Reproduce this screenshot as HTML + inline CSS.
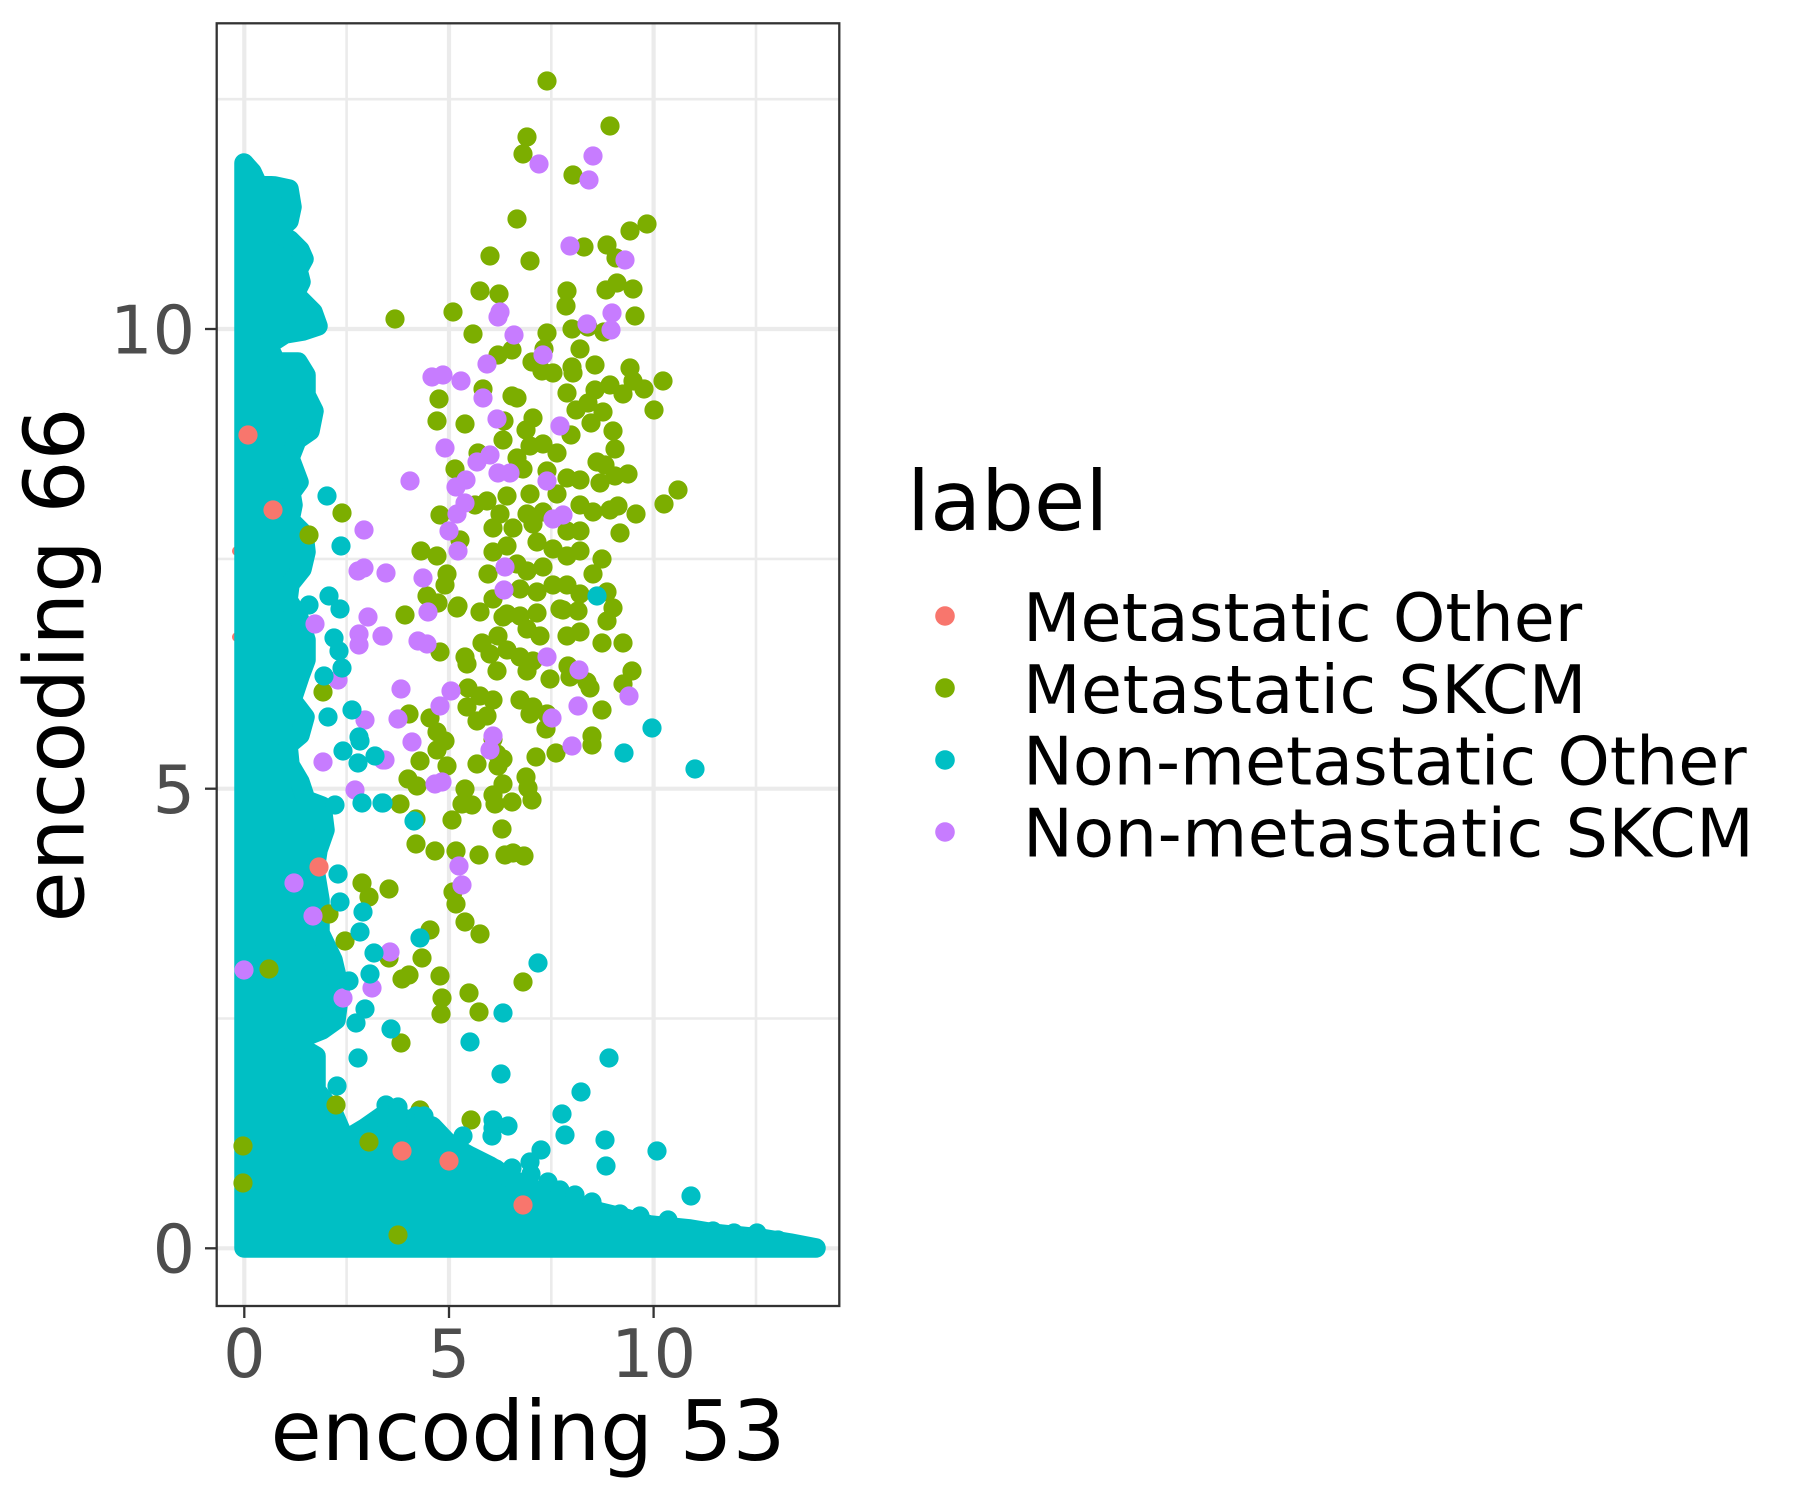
<!DOCTYPE html>
<html><head><meta charset="utf-8"><style>
html,body{margin:0;padding:0;background:#fff;}
svg{display:block;}
text{font-family:"DejaVu Sans","Liberation Sans",sans-serif;}
</style></head><body>
<svg width="1800" height="1500" viewBox="0 0 1800 1500" xmlns="http://www.w3.org/2000/svg">
<rect width="1800" height="1500" fill="#fff"/>
<!-- minor grid -->
<g stroke="#EBEBEB" stroke-width="2.6">
<line x1="346.6" y1="23.3" x2="346.6" y2="1306"/>
<line x1="551.3" y1="23.3" x2="551.3" y2="1306"/>
<line x1="756" y1="23.3" x2="756" y2="1306"/>
<line x1="216.7" y1="1018.5" x2="839.3" y2="1018.5"/>
<line x1="216.7" y1="558.9" x2="839.3" y2="558.9"/>
<line x1="216.7" y1="99.2" x2="839.3" y2="99.2"/>
</g>
<!-- major grid -->
<g stroke="#EBEBEB" stroke-width="4.2">
<line x1="244.3" y1="23.3" x2="244.3" y2="1306"/>
<line x1="449" y1="23.3" x2="449" y2="1306"/>
<line x1="653.6" y1="23.3" x2="653.6" y2="1306"/>
<line x1="216.7" y1="1248.3" x2="839.3" y2="1248.3"/>
<line x1="216.7" y1="788.7" x2="839.3" y2="788.7"/>
<line x1="216.7" y1="329" x2="839.3" y2="329"/>
</g>
<!-- small slivers -->
<g fill="#F8766D">
<circle cx="237" cy="551" r="5"/>
<circle cx="237" cy="637" r="5"/>
</g>
<!-- dense teal mass -->
<path fill="#00BFC4" stroke="#00BFC4" stroke-width="19.5" stroke-linejoin="round" d="M244,1248 L244,163 L252,172 L258,185 L275,186 L289,189 L292,207 L289,221 L276,232 L290,240 L300,250 L304,259 L298,270 L301,282 L295,294 L305,304 L313,312 L318,326 L303,331 L285,334 L268,345 L276,362 L298,362 L306,375 L306,395 L314,411 L310,431 L297,440 L290,458 L299,482 L291,493 L293,505 L290,520 L304,534 L306,552 L302,569 L290,584 L288,600 L299,618 L306,640 L306,660 L300,676 L292,700 L305,717 L300,735 L288,745 L290,765 L300,782 L306,800 L322,806 L325,830 L318,850 L315,870 L320,900 L320,933 L333,960 L340,990 L336,1020 L322,1030 L292,1042 L316,1056 L316,1090 L333,1112 L345,1140 L365,1128 L385,1114 L410,1120 L432,1126 L450,1145 L470,1156 L490,1166 L510,1178 L530,1188 L560,1198 L580,1206 L600,1212 L625,1218 L650,1225 L690,1229 L720,1234 L760,1238 L790,1243 L816,1248 Z"/>
<!-- green -->
<g fill="#7CAE00">
<circle cx="547" cy="81" r="9.6"/><circle cx="610" cy="126" r="9.6"/><circle cx="527" cy="137" r="9.6"/><circle cx="523" cy="154" r="9.6"/><circle cx="573" cy="175" r="9.6"/><circle cx="517" cy="219" r="9.6"/><circle cx="647" cy="224" r="9.6"/><circle cx="630" cy="231" r="9.6"/><circle cx="584" cy="247" r="9.6"/><circle cx="607" cy="245" r="9.6"/><circle cx="616" cy="258" r="9.6"/><circle cx="490" cy="256" r="9.6"/><circle cx="530" cy="261" r="9.6"/><circle cx="480" cy="291" r="9.6"/><circle cx="499" cy="294" r="9.6"/><circle cx="567" cy="291" r="9.6"/><circle cx="566" cy="306" r="9.6"/><circle cx="606" cy="290" r="9.6"/><circle cx="617" cy="283" r="9.6"/><circle cx="633" cy="289" r="9.6"/><circle cx="635" cy="316" r="9.6"/><circle cx="395" cy="319" r="9.6"/><circle cx="453" cy="312" r="9.6"/><circle cx="473" cy="334" r="9.6"/><circle cx="547" cy="333" r="9.6"/><circle cx="572" cy="329" r="9.6"/><circle cx="588" cy="327" r="9.6"/><circle cx="604" cy="332" r="9.6"/><circle cx="512" cy="350" r="9.6"/><circle cx="498" cy="355" r="9.6"/><circle cx="544" cy="349" r="9.6"/><circle cx="580" cy="349" r="9.6"/><circle cx="532" cy="362" r="9.6"/><circle cx="542" cy="371" r="9.6"/><circle cx="553" cy="373" r="9.6"/><circle cx="572" cy="367" r="9.6"/><circle cx="573" cy="373" r="9.6"/><circle cx="595" cy="365" r="9.6"/><circle cx="630" cy="368" r="9.6"/><circle cx="610" cy="385" r="9.6"/><circle cx="633" cy="381" r="9.6"/><circle cx="644" cy="389" r="9.6"/><circle cx="623" cy="394" r="9.6"/><circle cx="663" cy="381" r="9.6"/><circle cx="654" cy="410" r="9.6"/><circle cx="567" cy="393" r="9.6"/><circle cx="483" cy="389" r="9.6"/><circle cx="439" cy="399" r="9.6"/><circle cx="437" cy="421" r="9.6"/><circle cx="465" cy="424" r="9.6"/><circle cx="512" cy="396" r="9.6"/><circle cx="517" cy="398" r="9.6"/><circle cx="504" cy="421" r="9.6"/><circle cx="533" cy="418" r="9.6"/><circle cx="526" cy="430" r="9.6"/><circle cx="503" cy="440" r="9.6"/><circle cx="576" cy="410" r="9.6"/><circle cx="588" cy="403" r="9.6"/><circle cx="595" cy="390" r="9.6"/><circle cx="603" cy="412" r="9.6"/><circle cx="591" cy="423" r="9.6"/><circle cx="571" cy="435" r="9.6"/><circle cx="613" cy="431" r="9.6"/><circle cx="615" cy="449" r="9.6"/><circle cx="478" cy="453" r="9.6"/><circle cx="455" cy="469" r="9.6"/><circle cx="517" cy="458" r="9.6"/><circle cx="530" cy="446" r="9.6"/><circle cx="543" cy="444" r="9.6"/><circle cx="557" cy="453" r="9.6"/><circle cx="523" cy="469" r="9.6"/><circle cx="547" cy="471" r="9.6"/><circle cx="597" cy="462" r="9.6"/><circle cx="605" cy="465" r="9.6"/><circle cx="628" cy="474" r="9.6"/><circle cx="615" cy="476" r="9.6"/><circle cx="567" cy="478" r="9.6"/><circle cx="580" cy="480" r="9.6"/><circle cx="600" cy="483" r="9.6"/><circle cx="678" cy="490" r="9.6"/><circle cx="664" cy="504" r="9.6"/><circle cx="636" cy="514" r="9.6"/><circle cx="618" cy="506" r="9.6"/><circle cx="610" cy="510" r="9.6"/><circle cx="620" cy="533" r="9.6"/><circle cx="593" cy="512" r="9.6"/><circle cx="580" cy="505" r="9.6"/><circle cx="557" cy="494" r="9.6"/><circle cx="530" cy="494" r="9.6"/><circle cx="507" cy="496" r="9.6"/><circle cx="487" cy="501" r="9.6"/><circle cx="475" cy="505" r="9.6"/><circle cx="440" cy="515" r="9.6"/><circle cx="500" cy="514" r="9.6"/><circle cx="527" cy="514" r="9.6"/><circle cx="543" cy="512" r="9.6"/><circle cx="493" cy="528" r="9.6"/><circle cx="513" cy="528" r="9.6"/><circle cx="533" cy="524" r="9.6"/><circle cx="567" cy="531" r="9.6"/><circle cx="580" cy="531" r="9.6"/><circle cx="460" cy="540" r="9.6"/><circle cx="421" cy="551" r="9.6"/><circle cx="437" cy="556" r="9.6"/><circle cx="493" cy="552" r="9.6"/><circle cx="507" cy="546" r="9.6"/><circle cx="537" cy="542" r="9.6"/><circle cx="553" cy="549" r="9.6"/><circle cx="567" cy="556" r="9.6"/><circle cx="580" cy="551" r="9.6"/><circle cx="602" cy="559" r="9.6"/><circle cx="593" cy="574" r="9.6"/><circle cx="447" cy="574" r="9.6"/><circle cx="445" cy="585" r="9.6"/><circle cx="427" cy="596" r="9.6"/><circle cx="438" cy="603" r="9.6"/><circle cx="458" cy="606" r="9.6"/><circle cx="405" cy="615" r="9.6"/><circle cx="488" cy="574" r="9.6"/><circle cx="517" cy="564" r="9.6"/><circle cx="527" cy="571" r="9.6"/><circle cx="543" cy="567" r="9.6"/><circle cx="520" cy="589" r="9.6"/><circle cx="537" cy="592" r="9.6"/><circle cx="553" cy="585" r="9.6"/><circle cx="567" cy="585" r="9.6"/><circle cx="580" cy="594" r="9.6"/><circle cx="607" cy="592" r="9.6"/><circle cx="613" cy="608" r="9.6"/><circle cx="493" cy="599" r="9.6"/><circle cx="480" cy="612" r="9.6"/><circle cx="507" cy="614" r="9.6"/><circle cx="563" cy="610" r="9.6"/>
<circle cx="457" cy="608" r="9.6"/><circle cx="503" cy="617" r="9.6"/><circle cx="520" cy="616" r="9.6"/><circle cx="537" cy="613" r="9.6"/><circle cx="560" cy="609" r="9.6"/><circle cx="578" cy="611" r="9.6"/><circle cx="607" cy="621" r="9.6"/><circle cx="527" cy="629" r="9.6"/><circle cx="540" cy="636" r="9.6"/><circle cx="567" cy="636" r="9.6"/><circle cx="580" cy="632" r="9.6"/><circle cx="602" cy="643" r="9.6"/><circle cx="623" cy="643" r="9.6"/><circle cx="498" cy="636" r="9.6"/><circle cx="482" cy="643" r="9.6"/><circle cx="440" cy="652" r="9.6"/><circle cx="465" cy="657" r="9.6"/><circle cx="467" cy="664" r="9.6"/><circle cx="490" cy="654" r="9.6"/><circle cx="507" cy="650" r="9.6"/><circle cx="520" cy="657" r="9.6"/><circle cx="533" cy="661" r="9.6"/><circle cx="497" cy="671" r="9.6"/><circle cx="527" cy="671" r="9.6"/><circle cx="550" cy="679" r="9.6"/><circle cx="568" cy="666" r="9.6"/><circle cx="570" cy="677" r="9.6"/><circle cx="587" cy="682" r="9.6"/><circle cx="590" cy="688" r="9.6"/><circle cx="632" cy="671" r="9.6"/><circle cx="623" cy="684" r="9.6"/><circle cx="468" cy="688" r="9.6"/><circle cx="467" cy="707" r="9.6"/><circle cx="480" cy="696" r="9.6"/><circle cx="493" cy="700" r="9.6"/><circle cx="520" cy="700" r="9.6"/><circle cx="533" cy="707" r="9.6"/><circle cx="547" cy="714" r="9.6"/><circle cx="530" cy="714" r="9.6"/><circle cx="477" cy="721" r="9.6"/><circle cx="487" cy="716" r="9.6"/><circle cx="546" cy="729" r="9.6"/><circle cx="602" cy="710" r="9.6"/><circle cx="592" cy="736" r="9.6"/><circle cx="592" cy="745" r="9.6"/><circle cx="556" cy="753" r="9.6"/><circle cx="536" cy="757" r="9.6"/><circle cx="409" cy="714" r="9.6"/><circle cx="430" cy="718" r="9.6"/><circle cx="437" cy="732" r="9.6"/><circle cx="445" cy="741" r="9.6"/><circle cx="437" cy="750" r="9.6"/><circle cx="420" cy="761" r="9.6"/><circle cx="447" cy="766" r="9.6"/><circle cx="477" cy="764" r="9.6"/><circle cx="493" cy="739" r="9.6"/><circle cx="497" cy="754" r="9.6"/><circle cx="503" cy="759" r="9.6"/><circle cx="498" cy="766" r="9.6"/><circle cx="408" cy="779" r="9.6"/><circle cx="417" cy="786" r="9.6"/><circle cx="465" cy="789" r="9.6"/><circle cx="503" cy="784" r="9.6"/><circle cx="493" cy="795" r="9.6"/><circle cx="462" cy="804" r="9.6"/><circle cx="472" cy="805" r="9.6"/><circle cx="495" cy="804" r="9.6"/><circle cx="512" cy="802" r="9.6"/><circle cx="526" cy="777" r="9.6"/><circle cx="528" cy="788" r="9.6"/><circle cx="532" cy="800" r="9.6"/><circle cx="400" cy="804" r="9.6"/><circle cx="452" cy="820" r="9.6"/><circle cx="502" cy="829" r="9.6"/><circle cx="416" cy="844" r="9.6"/><circle cx="435" cy="851" r="9.6"/><circle cx="456" cy="851" r="9.6"/><circle cx="479" cy="855" r="9.6"/><circle cx="505" cy="855" r="9.6"/><circle cx="513" cy="853" r="9.6"/><circle cx="524" cy="856" r="9.6"/><circle cx="389" cy="889" r="9.6"/><circle cx="453" cy="892" r="9.6"/><circle cx="456" cy="904" r="9.6"/><circle cx="465" cy="922" r="9.6"/><circle cx="480" cy="934" r="9.6"/><circle cx="430" cy="930" r="9.6"/><circle cx="422" cy="958" r="9.6"/><circle cx="389" cy="958" r="9.6"/><circle cx="409" cy="975" r="9.6"/><circle cx="402" cy="979" r="9.6"/><circle cx="440" cy="976" r="9.6"/><circle cx="442" cy="998" r="9.6"/><circle cx="441" cy="1014" r="9.6"/><circle cx="469" cy="993" r="9.6"/><circle cx="479" cy="1012" r="9.6"/><circle cx="523" cy="982" r="9.6"/><circle cx="401" cy="1043" r="9.6"/><circle cx="420" cy="1110" r="9.6"/><circle cx="471" cy="1120" r="9.6"/><circle cx="416" cy="819" r="9.6"/>
<circle cx="342" cy="513" r="9.6"/><circle cx="309" cy="535" r="9.6"/><circle cx="323" cy="692" r="9.6"/><circle cx="362" cy="883" r="9.6"/><circle cx="369" cy="897" r="9.6"/><circle cx="329" cy="914" r="9.6"/><circle cx="345" cy="941" r="9.6"/><circle cx="336" cy="1105" r="9.6"/><circle cx="369" cy="1142" r="9.6"/><circle cx="398" cy="1235" r="9.6"/><circle cx="243" cy="1146" r="9.6"/><circle cx="243" cy="1183" r="9.6"/><circle cx="269" cy="969" r="9.6"/>
</g>
<!-- purple -->
<g fill="#C77CFF">
<circle cx="593" cy="156" r="9.6"/><circle cx="539" cy="164" r="9.6"/><circle cx="589" cy="180" r="9.6"/><circle cx="570" cy="246" r="9.6"/><circle cx="625" cy="260" r="9.6"/><circle cx="500" cy="312" r="9.6"/><circle cx="498" cy="317" r="9.6"/><circle cx="612" cy="313" r="9.6"/><circle cx="611" cy="330" r="9.6"/><circle cx="514" cy="335" r="9.6"/><circle cx="587" cy="324" r="9.6"/><circle cx="543" cy="355" r="9.6"/><circle cx="487" cy="364" r="9.6"/><circle cx="432" cy="377" r="9.6"/><circle cx="443" cy="375" r="9.6"/><circle cx="461" cy="381" r="9.6"/><circle cx="483" cy="398" r="9.6"/><circle cx="497" cy="419" r="9.6"/><circle cx="560" cy="426" r="9.6"/><circle cx="445" cy="448" r="9.6"/><circle cx="490" cy="455" r="9.6"/><circle cx="477" cy="462" r="9.6"/><circle cx="498" cy="473" r="9.6"/><circle cx="510" cy="473" r="9.6"/><circle cx="410" cy="481" r="9.6"/><circle cx="466" cy="480" r="9.6"/><circle cx="456" cy="487" r="9.6"/><circle cx="547" cy="481" r="9.6"/><circle cx="465" cy="503" r="9.6"/><circle cx="457" cy="514" r="9.6"/><circle cx="563" cy="515" r="9.6"/><circle cx="553" cy="519" r="9.6"/><circle cx="449" cy="531" r="9.6"/><circle cx="458" cy="551" r="9.6"/><circle cx="505" cy="567" r="9.6"/><circle cx="386" cy="573" r="9.6"/><circle cx="423" cy="578" r="9.6"/><circle cx="504" cy="590" r="9.6"/><circle cx="428" cy="612" r="9.6"/>
<circle cx="383" cy="636" r="9.6"/><circle cx="418" cy="641" r="9.6"/><circle cx="427" cy="644" r="9.6"/><circle cx="401" cy="689" r="9.6"/><circle cx="451" cy="691" r="9.6"/><circle cx="440" cy="706" r="9.6"/><circle cx="398" cy="719" r="9.6"/><circle cx="412" cy="742" r="9.6"/><circle cx="385" cy="760" r="9.6"/><circle cx="547" cy="657" r="9.6"/><circle cx="579" cy="670" r="9.6"/><circle cx="629" cy="696" r="9.6"/><circle cx="578" cy="706" r="9.6"/><circle cx="552" cy="718" r="9.6"/><circle cx="572" cy="746" r="9.6"/><circle cx="493" cy="736" r="9.6"/><circle cx="490" cy="750" r="9.6"/><circle cx="435" cy="784" r="9.6"/><circle cx="442" cy="782" r="9.6"/><circle cx="459" cy="866" r="9.6"/><circle cx="462" cy="885" r="9.6"/><circle cx="390" cy="952" r="9.6"/>
<circle cx="364" cy="530" r="9.6"/><circle cx="358" cy="571" r="9.6"/><circle cx="364" cy="568" r="9.6"/><circle cx="315" cy="624" r="9.6"/><circle cx="368" cy="617" r="9.6"/><circle cx="359" cy="634" r="9.6"/><circle cx="359" cy="645" r="9.6"/><circle cx="382" cy="636" r="9.6"/><circle cx="338" cy="680" r="9.6"/><circle cx="365" cy="720" r="9.6"/><circle cx="323" cy="762" r="9.6"/><circle cx="355" cy="790" r="9.6"/><circle cx="383" cy="760" r="9.6"/><circle cx="294" cy="883" r="9.6"/><circle cx="313" cy="916" r="9.6"/><circle cx="372" cy="988" r="9.6"/><circle cx="343" cy="998" r="9.6"/><circle cx="244" cy="970" r="9.6"/>
</g>
<!-- teal scattered -->
<g fill="#00BFC4">
<circle cx="327" cy="496" r="9.6"/><circle cx="341" cy="546" r="9.6"/><circle cx="329" cy="596" r="9.6"/><circle cx="340" cy="609" r="9.6"/><circle cx="309" cy="605" r="9.6"/><circle cx="334" cy="638" r="9.6"/><circle cx="339" cy="651" r="9.6"/><circle cx="342" cy="668" r="9.6"/><circle cx="324" cy="676" r="9.6"/><circle cx="352" cy="710" r="9.6"/><circle cx="328" cy="717" r="9.6"/><circle cx="359" cy="737" r="9.6"/><circle cx="360" cy="741" r="9.6"/><circle cx="343" cy="751" r="9.6"/><circle cx="358" cy="763" r="9.6"/><circle cx="375" cy="756" r="9.6"/><circle cx="362" cy="803" r="9.6"/><circle cx="382" cy="803" r="9.6"/><circle cx="414" cy="821" r="9.6"/><circle cx="335" cy="805" r="9.6"/><circle cx="338" cy="874" r="9.6"/><circle cx="340" cy="902" r="9.6"/><circle cx="363" cy="912" r="9.6"/><circle cx="360" cy="932" r="9.6"/><circle cx="374" cy="953" r="9.6"/><circle cx="370" cy="974" r="9.6"/><circle cx="349" cy="981" r="9.6"/><circle cx="365" cy="1009" r="9.6"/><circle cx="356" cy="1023" r="9.6"/><circle cx="391" cy="1029" r="9.6"/><circle cx="358" cy="1058" r="9.6"/><circle cx="337" cy="1086" r="9.6"/><circle cx="420" cy="938" r="9.6"/><circle cx="470" cy="1042" r="9.6"/><circle cx="503" cy="1013" r="9.6"/><circle cx="501" cy="1074" r="9.6"/><circle cx="386" cy="1105" r="9.6"/><circle cx="398" cy="1107" r="9.6"/><circle cx="416" cy="1116" r="9.6"/><circle cx="424" cy="1116" r="9.6"/><circle cx="463" cy="1136" r="9.6"/><circle cx="493" cy="1128" r="9.6"/><circle cx="508" cy="1126" r="9.6"/><circle cx="492" cy="1136" r="9.6"/><circle cx="493" cy="1120" r="9.6"/><circle cx="397" cy="1125" r="9.6"/>
<circle cx="597" cy="596" r="9.6"/><circle cx="652" cy="728" r="9.6"/><circle cx="624" cy="753" r="9.6"/><circle cx="695" cy="769" r="9.6"/><circle cx="383" cy="803" r="9.6"/><circle cx="538" cy="963" r="9.6"/><circle cx="609" cy="1058" r="9.6"/><circle cx="581" cy="1092" r="9.6"/><circle cx="562" cy="1114" r="9.6"/><circle cx="565" cy="1135" r="9.6"/><circle cx="605" cy="1140" r="9.6"/><circle cx="657" cy="1151" r="9.6"/><circle cx="541" cy="1150" r="9.6"/><circle cx="691" cy="1196" r="9.6"/><circle cx="606" cy="1166" r="9.6"/><circle cx="592" cy="1202" r="9.6"/><circle cx="620" cy="1214" r="9.6"/><circle cx="530" cy="1162" r="9.6"/><circle cx="531" cy="1174" r="9.6"/><circle cx="496" cy="1169" r="9.6"/><circle cx="713" cy="1231" r="9.6"/><circle cx="734" cy="1233" r="9.6"/><circle cx="757" cy="1233" r="9.6"/><circle cx="778" cy="1240" r="9.6"/>
<circle cx="560" cy="1190" r="9.6"/><circle cx="575" cy="1195" r="9.6"/><circle cx="640" cy="1216" r="9.6"/><circle cx="668" cy="1220" r="9.6"/><circle cx="512" cy="1168" r="9.6"/><circle cx="548" cy="1182" r="9.6"/>
</g>
<!-- red -->
<g fill="#F8766D">
<circle cx="402" cy="1151" r="9.6"/><circle cx="449" cy="1161" r="9.6"/><circle cx="523" cy="1205" r="9.6"/><circle cx="273" cy="510" r="9.6"/><circle cx="248" cy="435" r="9.6"/><circle cx="319" cy="867" r="9.6"/>
</g>
<!-- panel border -->
<rect x="216.7" y="23.3" width="622.6" height="1282.7" fill="none" stroke="#333333" stroke-width="2.3"/>
<!-- ticks -->
<g stroke="#333333" stroke-width="2.3">
<line x1="244.3" y1="1306" x2="244.3" y2="1318"/>
<line x1="449" y1="1306" x2="449" y2="1318"/>
<line x1="653.6" y1="1306" x2="653.6" y2="1318"/>
<line x1="205" y1="1248.3" x2="216.7" y2="1248.3"/>
<line x1="205" y1="788.7" x2="216.7" y2="788.7"/>
<line x1="205" y1="329" x2="216.7" y2="329"/>
</g>
<!-- tick labels -->
<g fill="#4D4D4D" font-size="66.7">
<text x="244.3" y="1377" text-anchor="middle">0</text>
<text x="449" y="1377" text-anchor="middle">5</text>
<text x="653.6" y="1377" text-anchor="middle">10</text>
<text x="195" y="1272.6" text-anchor="end">0</text>
<text x="195" y="813" text-anchor="end">5</text>
<text x="195" y="353.3" text-anchor="end">10</text>
</g>
<!-- axis titles -->
<text x="528" y="1460" text-anchor="middle" font-size="83.3" fill="#000">encoding 53</text>
<text transform="translate(83.3,665) rotate(-90)" text-anchor="middle" font-size="83.3" fill="#000">encoding 66</text>
<!-- legend -->
<text x="907" y="530" font-size="83.3" fill="#000">label</text>
<circle cx="945" cy="616" r="9.8" fill="#F8766D"/>
<circle cx="945" cy="688" r="9.8" fill="#7CAE00"/>
<circle cx="945" cy="760" r="9.8" fill="#00BFC4"/>
<circle cx="945" cy="832" r="9.8" fill="#C77CFF"/>
<g font-size="66.7" fill="#000">
<text x="1023" y="641">Metastatic Other</text>
<text x="1023" y="713" letter-spacing="0.5">Metastatic SKCM</text>
<text x="1023" y="784.5">Non-metastatic Other</text>
<text x="1023" y="856.5" letter-spacing="0.55">Non-metastatic SKCM</text>
</g>
</svg>
</body></html>
